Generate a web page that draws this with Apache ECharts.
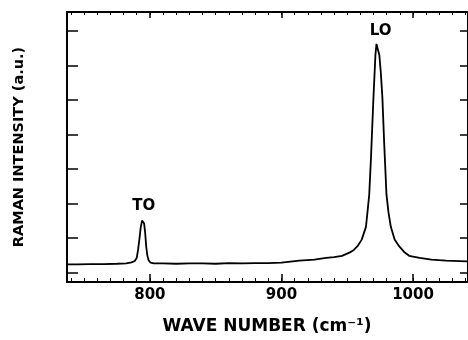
<!DOCTYPE html>
<html>
<head>
<meta charset="utf-8">
<script src="https://cdn.jsdelivr.net/npm/echarts@6/dist/echarts.min.js"></script>
<style>html,body{margin:0;padding:0;background:#fff}#c{width:468px;height:340px}</style>
</head>
<body>
<div id="c"></div>
<script>
// Data
const waveNumbers = [737, 745, 755, 765, 775, 782, 786, 788.5, 790, 791, 792, 793, 794, 794.8, 795.6, 796.4, 797.2, 798, 799, 800.5, 803, 810, 820, 830, 840, 850, 860, 870, 880, 890, 900, 913.6, 925, 934, 940, 946, 952, 955, 957.8, 961, 964.2, 965.5, 966.7, 968, 969.9, 971.4, 972.2, 973.6, 974.4, 975.5, 976.7, 978, 979.8, 981.3, 983.1, 986, 989.4, 993, 997, 1005, 1014, 1025, 1041];
const intensities = [1.23, 1.23, 1.24, 1.24, 1.25, 1.26, 1.29, 1.33, 1.42, 1.65, 1.95, 2.3, 2.5, 2.47, 2.42, 2.15, 1.75, 1.5, 1.35, 1.28, 1.26, 1.26, 1.25, 1.26, 1.26, 1.25, 1.27, 1.26, 1.27, 1.27, 1.28, 1.34, 1.37, 1.42, 1.44, 1.48, 1.58, 1.65, 1.76, 1.95, 2.32, 2.8, 3.26, 4.3, 6.07, 7.3, 7.63, 7.63, 7.3, 6.8, 6.07, 4.8, 3.26, 2.75, 2.32, 1.95, 1.76, 1.6, 1.48, 1.42, 1.37, 1.34, 1.32];
const peakLabels = ['TO', 'LO'];
const peakPositions = [794.5, 973];
const peakHeights = [2.5, 7.63];
const xLabelValues = [800, 900, 1000];
const xMinorTicks = [];
for (let v = 740; v <= 1040; v += 10) xMinorTicks.push(v);
const yTicks = [1, 2, 3, 4, 5, 6, 7, 8];
const xMin = 737, xMax = 1041, yMin = 0.72, yMax = 8.555;

const chart = echarts.init(document.getElementById('c'), null, {renderer: 'canvas'});
const labelFont = {fontFamily: 'DejaVu Sans', fontWeight: 'bold', color: '#000'};
const baseX = {type: 'value', min: xMin, max: xMax, splitLine: {show: false}};
const baseY = {type: 'value', min: yMin, max: yMax, splitLine: {show: false}};
chart.setOption({
  animation: false,
  backgroundColor: '#fff',
  grid: {left: 67, top: 12, right: 1, bottom: 50, containLabel: false},
  xAxis: [
    Object.assign({}, baseX, {
      position: 'bottom',
      axisLine: {show: true, onZero: false, lineStyle: {color: '#000', width: 2}},
      axisTick: {show: true, inside: true, length: 4, customValues: xMinorTicks, lineStyle: {color: '#000', width: 1}},
      axisLabel: Object.assign({show: true, customValues: xLabelValues, margin: 6, fontSize: 15, formatter: v => String(v)}, labelFont),
      name: 'WAVE NUMBER (cm\u207B\u00B9)', nameLocation: 'middle', nameGap: 36,
      nameTextStyle: Object.assign({fontSize: 17}, labelFont)
    }),
    Object.assign({}, baseX, {
      position: 'bottom', gridIndex: 0,
      axisLine: {show: false, onZero: false},
      axisTick: {show: true, inside: true, length: 8, customValues: xLabelValues, lineStyle: {color: '#000', width: 1.5}},
      axisLabel: {show: false}
    }),
    Object.assign({}, baseX, {
      position: 'top',
      axisLine: {show: true, onZero: false, lineStyle: {color: '#000', width: 2}},
      axisTick: {show: true, inside: true, length: 3, customValues: xMinorTicks, lineStyle: {color: '#000', width: 1}},
      axisLabel: {show: false}
    }),
    Object.assign({}, baseX, {
      position: 'top',
      axisLine: {show: false, onZero: false},
      axisTick: {show: true, inside: true, length: 6, customValues: xLabelValues, lineStyle: {color: '#000', width: 1.5}},
      axisLabel: {show: false}
    })
  ],
  yAxis: [
    Object.assign({}, baseY, {
      position: 'left',
      axisLine: {show: true, onZero: false, lineStyle: {color: '#000', width: 2}},
      axisTick: {show: true, inside: true, length: 11, customValues: yTicks, lineStyle: {color: '#000', width: 1.5}},
      axisLabel: {show: false},
      name: 'RAMAN INTENSITY (a.u.)', nameLocation: 'middle', nameGap: 40, nameRotate: 90,
      nameTextStyle: {fontFamily: 'DejaVu Sans', fontWeight: 'bold', fontSize: 14.5, color: '#000'}
    }),
    Object.assign({}, baseY, {
      position: 'right',
      axisLine: {show: true, onZero: false, lineStyle: {color: '#000', width: 1}},
      axisTick: {show: true, inside: true, length: 7, customValues: yTicks, lineStyle: {color: '#000', width: 1.5}},
      axisLabel: {show: false}
    })
  ],
  series: [{
    type: 'line',
    xAxisIndex: 0, yAxisIndex: 0,
    data: waveNumbers.map((x, i) => [x, intensities[i]]),
    showSymbol: false,
    symbol: 'none',
    lineStyle: {color: '#000', width: 1.8},
    markPoint: {
      symbol: 'circle', symbolSize: 0,
      label: Object.assign({show: true, position: 'inside', fontSize: 15}, labelFont),
      data: peakLabels.map((t, i) => ({
        coord: [peakPositions[i], peakHeights[i]],
        label: {formatter: t, offset: i === 0 ? [1, -15] : [3, -13]}
      }))
    }
  }]
});
</script>
</body>
</html>
